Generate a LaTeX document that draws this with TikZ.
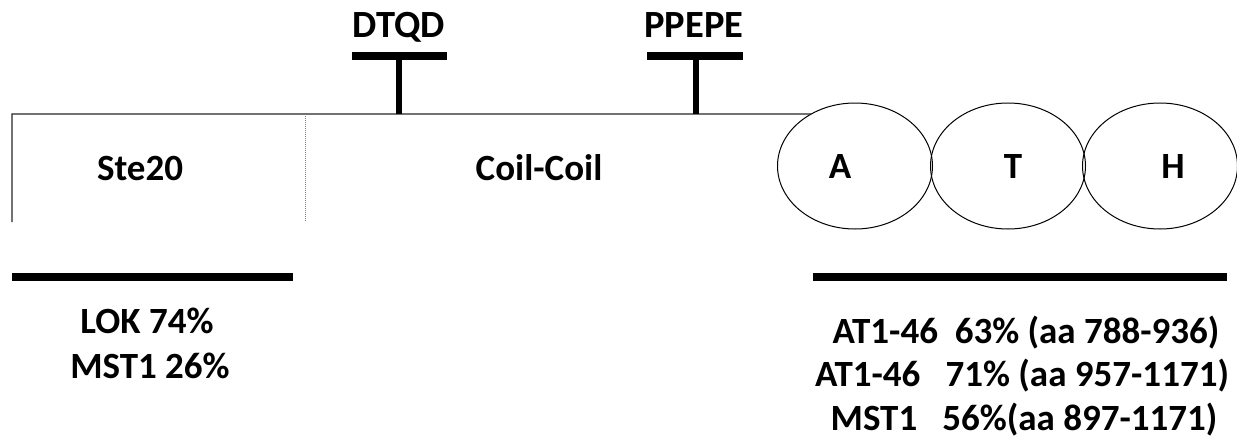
\documentclass[tikz,border=0pt]{standalone}
\usepackage{fontspec}
\setmainfont{Carlito}
\usetikzlibrary{shapes.geometric}
\begin{document}
\begin{tikzpicture}[x=1pt,y=-1pt,
  lbl/.style={font=\fontsize{37}{44}\selectfont\bfseries, inner sep=0pt, anchor=base},
  motif/.style={font=\fontsize{38.5}{44}\selectfont\bfseries, inner sep=0pt, anchor=base},
  thickbar/.style={line width=7.5pt},
  stem/.style={line width=6pt},
  outline/.style={line width=1.2pt, black!85},
  athdomain/.style={ellipse, draw, line width=1pt, minimum width=155pt, minimum height=126pt, inner sep=0pt, outer sep=0pt}]
\useasboundingbox (0,0) rectangle (1237,442);

% ATH domains
\node[athdomain] (A) at (855,166) {};
\node[athdomain] (T) at (1008,166) {};
\node[athdomain] (H) at (1160,166) {};
\node[lbl] (Atxt) at (840,178) {A};
\node[lbl] (Ttxt) at (1013,178) {T};
\node[lbl] (Htxt) at (1173,178) {H};

% backbone
\coordinate (tl) at (12,114);
\coordinate (bl) at (12,222);
\coordinate (dt) at (305,116);
\coordinate (db) at (305,222);
\draw[outline] (bl) -- (tl) -- (A.130);
\draw[gray, densely dotted, line width=1pt] (dt) -- (db);

\node[lbl] (ste) at (140,180) {Ste20};
\node[lbl] (coil) at (539,180) {Coil-Coil};

% motifs
\coordinate (dqL) at (352,56);
\coordinate (dqR) at (447,56);
\coordinate (dqS) at (399,56);
\coordinate (dqB) at (399,114);
\draw[thickbar] (dqL) -- (dqR);
\draw[stem] (dqS) -- (dqB);
\node[motif] (dtqd) at (399,37) {DTQD};

\coordinate (ppL) at (647,56);
\coordinate (ppR) at (743,56);
\coordinate (ppS) at (696,56);
\coordinate (ppB) at (696,114);
\draw[thickbar] (ppL) -- (ppR);
\draw[stem] (ppS) -- (ppB);
\node[motif] (ppepe) at (694,37) {PPEPE};

% homology bars
\coordinate (lbL) at (12,277);
\coordinate (lbR) at (293,277);
\coordinate (rbL) at (813,277);
\coordinate (rbR) at (1227,277);
\draw[thickbar] (lbL) -- (lbR);
\draw[thickbar] (rbL) -- (rbR);

\node[lbl] (lok) at (147,333) {LOK 74\%};
\node[lbl] (mst) at (150,378) {MST1 26\%};

\node[lbl] (r1) at (1026,343) {AT1-46\ \ 63\% (aa 788-936)};
\node[lbl] (r2) at (1022,386) {AT1-46\ \ \ 71\% (aa 957-1171)};
\node[lbl] (r3) at (1024,430) {MST1\ \ \ 56\%(aa 897-1171)};
\end{tikzpicture}
\end{document}
